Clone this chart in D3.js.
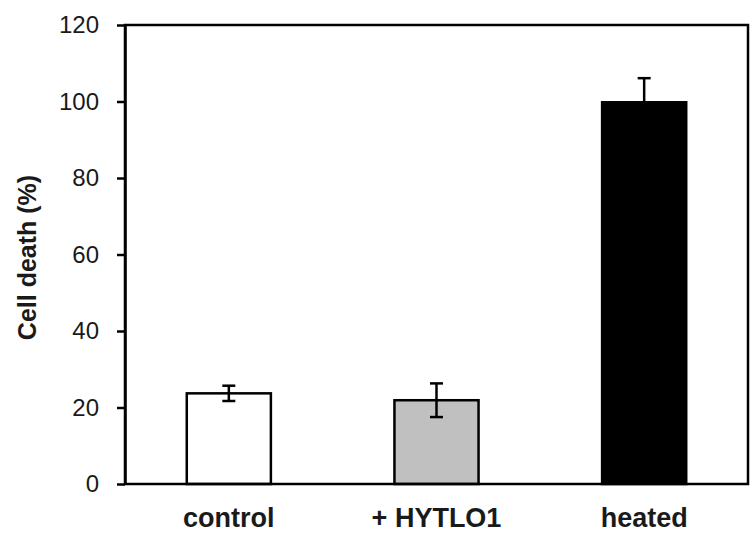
<!DOCTYPE html>
<html>
<head>
<meta charset="utf-8">
<script src="https://cdn.jsdelivr.net/npm/d3@7"></script>
<style>
  body { margin: 0; background: #fff; }
  svg text { font-family: "Liberation Sans", Arial, sans-serif; fill: #1a1a1a; }
</style>
</head>
<body>
<svg id="chart" width="754" height="540"></svg>
<script>
// chart data
const categories = ["control", "+ HYTLO1", "heated"];
const cellDeath = [23.7, 21.9, 99.8];
const errors = [2.0, 4.4, 6.3];
const fills = ["#ffffff", "#c0c0c0", "#000000"];
const yTicks = [0, 20, 40, 60, 80, 100, 120];

const svg = d3.select("#chart");

// plot area
const plotLeft = 125, plotRight = 748, plotTop = 25, plotBottom = 484;

const x = d3.scaleBand()
  .domain(categories)
  .range([plotLeft, plotRight])
  .paddingInner(0.595)
  .paddingOuter(0.2975);

const y = d3.scaleLinear()
  .domain([0, 120])
  .range([plotBottom, plotTop]);

const rows = categories.map((c, i) => ({ name: c, value: cellDeath[i], err: errors[i], fill: fills[i] }));

// bars
svg.append("g")
  .selectAll("rect")
  .data(rows)
  .join("rect")
  .attr("x", d => x(d.name))
  .attr("y", d => y(d.value))
  .attr("width", x.bandwidth())
  .attr("height", d => y(0) - y(d.value))
  .attr("fill", d => d.fill)
  .attr("stroke", "#000")
  .attr("stroke-width", 2.5);

// error bars
const cap = 13;
const eb = svg.append("g").attr("stroke", "#000").attr("stroke-width", 2.5);
rows.forEach(d => {
  const cx = x(d.name) + x.bandwidth() / 2;
  eb.append("line")
    .attr("x1", cx).attr("x2", cx)
    .attr("y1", y(d.value + d.err)).attr("y2", y(d.value - d.err));
  eb.append("line")
    .attr("x1", cx - cap / 2).attr("x2", cx + cap / 2)
    .attr("y1", y(d.value + d.err)).attr("y2", y(d.value + d.err));
  eb.append("line")
    .attr("x1", cx - cap / 2).attr("x2", cx + cap / 2)
    .attr("y1", y(d.value - d.err)).attr("y2", y(d.value - d.err));
});

// frame
svg.append("rect")
  .attr("x", plotLeft).attr("y", plotTop)
  .attr("width", plotRight - plotLeft).attr("height", plotBottom - plotTop)
  .attr("fill", "none")
  .attr("stroke", "#000")
  .attr("stroke-width", 2.5);

// y axis
const yAxis = svg.append("g")
  .attr("transform", `translate(${plotLeft},0)`)
  .call(d3.axisLeft(y).tickValues(yTicks).tickSize(8).tickSizeOuter(0).tickPadding(18));
yAxis.select(".domain").attr("stroke", "#000").attr("stroke-width", 2.5);
yAxis.selectAll(".tick line").attr("stroke", "#000").attr("stroke-width", 2.5);
yAxis.selectAll(".tick text")
  .attr("font-size", 24)
  .attr("font-family", "Liberation Sans, Arial, sans-serif")
  .attr("fill", "#1a1a1a");

// x labels
const xAxis = svg.append("g")
  .attr("transform", `translate(0,${plotBottom})`)
  .call(d3.axisBottom(x).tickSize(0).tickPadding(0));
xAxis.select(".domain").remove();
xAxis.selectAll(".tick text")
  .attr("y", 43)
  .attr("dy", 0)
  .attr("font-size", 27)
  .attr("font-weight", "bold")
  .attr("font-family", "Liberation Sans, Arial, sans-serif")
  .attr("fill", "#1a1a1a");

// y title
svg.append("text")
  .attr("transform", `translate(36,${(plotTop + plotBottom) / 2 + 3}) rotate(-90)`)
  .attr("text-anchor", "middle")
  .attr("font-size", 25)
  .attr("font-weight", "bold")
  .text("Cell death (%)");
</script>
</body>
</html>
